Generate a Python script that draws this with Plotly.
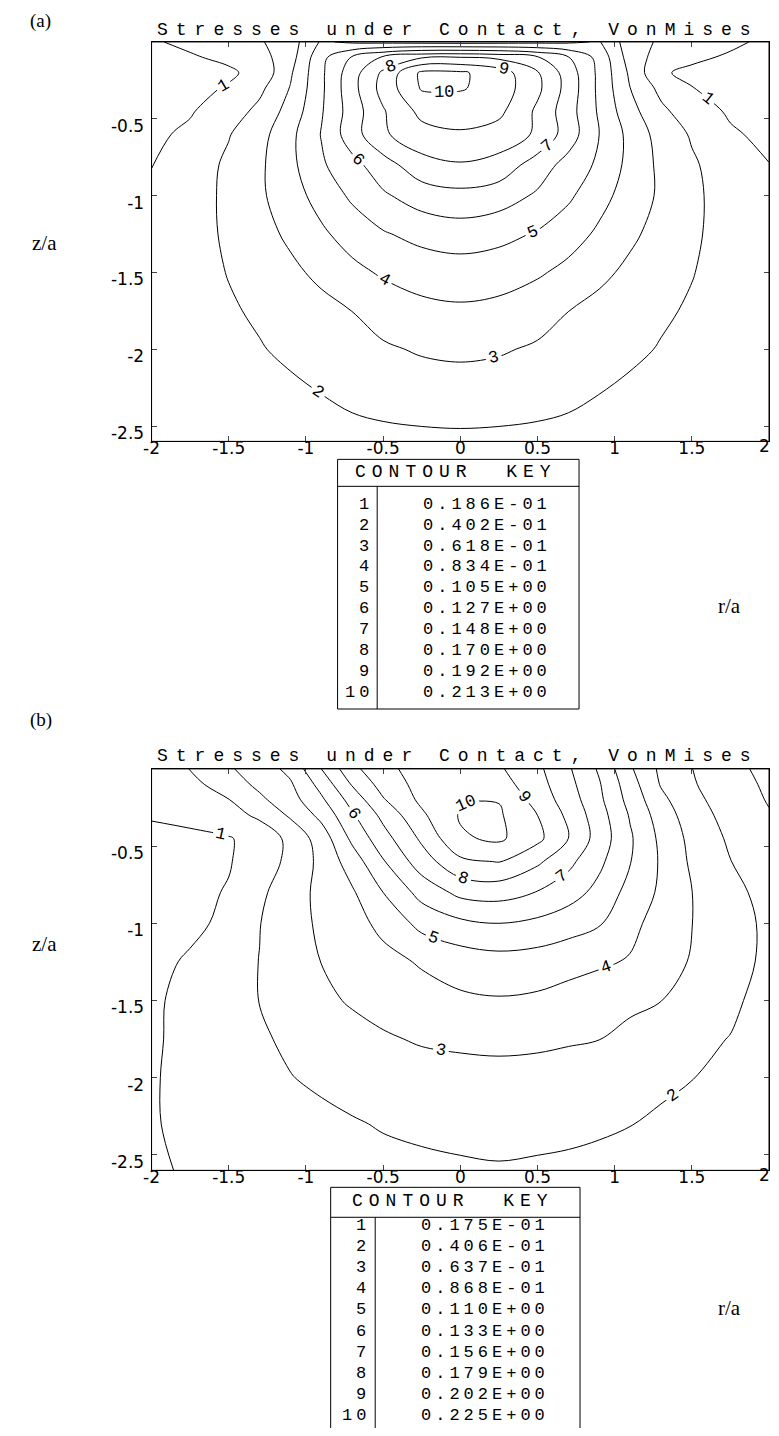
import numpy as np
import plotly.graph_objects as go

# ---------------- data ----------------
r_vals = [-2, -1.75, -1.5, -1.3, -1.1, -0.9, -0.7, -0.5, -0.25, 0, 0.25, 0.5, 0.7, 0.9, 1.1, 1.3, 1.5, 1.75, 2]
z_vals = [0, -0.1, -0.2, -0.3, -0.45, -0.6, -0.8, -1.0, -1.25, -1.5, -1.75, -2.0, -2.3, -2.6]

# panel (a): von Mises stress (rows follow z_vals, columns r_vals)
stress_a = [
    [0.017, 0.022, 0.030, 0.038, 0.052, 0.086, 0.080, 0.078, 0.076, 0.075, 0.076, 0.078, 0.080, 0.085, 0.050, 0.037, 0.029, 0.021, 0.016],
    [0.015, 0.017, 0.022, 0.032, 0.053, 0.099, 0.129, 0.151, 0.168, 0.170, 0.165, 0.150, 0.128, 0.098, 0.052, 0.031, 0.021, 0.017, 0.014],
    [0.012, 0.013, 0.016, 0.024, 0.059, 0.101, 0.139, 0.174, 0.217, 0.216, 0.203, 0.172, 0.138, 0.100, 0.058, 0.020, 0.016, 0.013, 0.011],
    [0.011, 0.014, 0.020, 0.035, 0.063, 0.101, 0.141, 0.178, 0.215, 0.215, 0.204, 0.175, 0.140, 0.100, 0.062, 0.034, 0.019, 0.013, 0.010],
    [0.012, 0.017, 0.029, 0.046, 0.070, 0.103, 0.137, 0.168, 0.198, 0.200, 0.197, 0.166, 0.136, 0.102, 0.069, 0.045, 0.028, 0.016, 0.012],
    [0.015, 0.022, 0.039, 0.054, 0.078, 0.106, 0.139, 0.167, 0.184, 0.190, 0.183, 0.167, 0.138, 0.105, 0.077, 0.053, 0.038, 0.021, 0.014],
    [0.018, 0.029, 0.044, 0.058, 0.078, 0.102, 0.120, 0.139, 0.162, 0.168, 0.162, 0.138, 0.119, 0.101, 0.077, 0.057, 0.043, 0.029, 0.019],
    [0.023, 0.032, 0.044, 0.058, 0.075, 0.091, 0.109, 0.124, 0.137, 0.142, 0.137, 0.124, 0.109, 0.090, 0.075, 0.058, 0.044, 0.032, 0.024],
    [0.025, 0.033, 0.043, 0.054, 0.066, 0.080, 0.092, 0.103, 0.112, 0.116, 0.112, 0.103, 0.092, 0.080, 0.066, 0.054, 0.043, 0.033, 0.025],
    [0.025, 0.032, 0.041, 0.048, 0.057, 0.067, 0.078, 0.086, 0.092, 0.095, 0.092, 0.086, 0.078, 0.067, 0.057, 0.048, 0.041, 0.032, 0.025],
    [0.025, 0.031, 0.038, 0.043, 0.049, 0.055, 0.062, 0.071, 0.078, 0.080, 0.078, 0.071, 0.062, 0.055, 0.049, 0.043, 0.038, 0.031, 0.025],
    [0.024, 0.029, 0.034, 0.039, 0.044, 0.049, 0.054, 0.059, 0.064, 0.066, 0.064, 0.059, 0.054, 0.049, 0.044, 0.039, 0.034, 0.029, 0.024],
    [0.022, 0.026, 0.030, 0.033, 0.036, 0.040, 0.044, 0.047, 0.050, 0.051, 0.050, 0.047, 0.044, 0.040, 0.036, 0.033, 0.030, 0.026, 0.022],
    [0.020, 0.023, 0.026, 0.028, 0.030, 0.032, 0.034, 0.035, 0.0355, 0.036, 0.0355, 0.035, 0.034, 0.032, 0.030, 0.028, 0.026, 0.023, 0.020],
]

# panel (b)
stress_b = [
    [0.030, 0.041, 0.061, 0.075, 0.093, 0.133, 0.172, 0.198, 0.208, 0.212, 0.205, 0.184, 0.159, 0.130, 0.090, 0.059, 0.041, 0.023, 0.012],
    [0.027, 0.034, 0.052, 0.069, 0.084, 0.118, 0.158, 0.188, 0.210, 0.220, 0.212, 0.188, 0.163, 0.135, 0.097, 0.062, 0.043, 0.026, 0.014],
    [0.021, 0.029, 0.040, 0.059, 0.0776, 0.106, 0.142, 0.177, 0.207, 0.224, 0.224, 0.193, 0.168, 0.138, 0.102, 0.0695, 0.047, 0.029, 0.016],
    [0.019, 0.022, 0.032, 0.045, 0.067, 0.093, 0.130, 0.162, 0.198, 0.227, 0.228, 0.202, 0.174, 0.143, 0.108, 0.076, 0.052, 0.032, 0.019],
    [0.013, 0.014, 0.016, 0.0255, 0.0467, 0.0744, 0.115, 0.147, 0.183, 0.222, 0.229, 0.208, 0.179, 0.146, 0.113, 0.0817, 0.0574, 0.037, 0.027],
    [0.012, 0.013, 0.016, 0.029, 0.046, 0.0698, 0.098, 0.131, 0.168, 0.197, 0.203, 0.183, 0.162, 0.138, 0.111, 0.084, 0.060, 0.041, 0.029],
    [0.011, 0.012, 0.019, 0.036, 0.0535, 0.0695, 0.084, 0.110, 0.141, 0.162, 0.165, 0.155, 0.143, 0.126, 0.102, 0.083, 0.064, 0.047, 0.033],
    [0.011, 0.013, 0.022, 0.040, 0.0546, 0.0675, 0.0786, 0.0926, 0.117, 0.128, 0.133, 0.128, 0.120, 0.112, 0.093, 0.0777, 0.064, 0.050, 0.036],
    [0.012, 0.020, 0.032, 0.041, 0.0527, 0.064, 0.072, 0.080, 0.089, 0.097, 0.101, 0.099, 0.095, 0.090, 0.085, 0.0728, 0.062, 0.047, 0.037],
    [0.014, 0.024, 0.031, 0.041, 0.0498, 0.059, 0.066, 0.072, 0.078, 0.083, 0.085, 0.083, 0.078, 0.074, 0.069, 0.064, 0.055, 0.0445, 0.033],
    [0.015, 0.023, 0.0314, 0.038, 0.044, 0.050, 0.056, 0.061, 0.066, 0.068, 0.069, 0.068, 0.066, 0.064, 0.057, 0.051, 0.045, 0.040, 0.031],
    [0.016, 0.0226, 0.030, 0.035, 0.040, 0.044, 0.048, 0.051, 0.054, 0.056, 0.057, 0.056, 0.054, 0.051, 0.048, 0.044, 0.041, 0.036, 0.029],
    [0.016, 0.022, 0.027, 0.030, 0.033, 0.036, 0.039, 0.042, 0.044, 0.046, 0.047, 0.046, 0.045, 0.043, 0.041, 0.038, 0.035, 0.031, 0.026],
    [0.0155, 0.019, 0.023, 0.026, 0.029, 0.031, 0.033, 0.035, 0.037, 0.038, 0.039, 0.038, 0.037, 0.036, 0.034, 0.032, 0.030, 0.027, 0.023],
]

key_a = ["0.186E-01", "0.402E-01", "0.618E-01", "0.834E-01", "0.105E+00",
         "0.127E+00", "0.148E+00", "0.170E+00", "0.192E+00", "0.213E+00"]
key_b = ["0.175E-01", "0.406E-01", "0.637E-01", "0.868E-01", "0.110E+00",
         "0.133E+00", "0.156E+00", "0.179E+00", "0.202E+00", "0.225E+00"]
key_ids = [1, 2, 3, 4, 5, 6, 7, 8, 9, 10]

x_ticks = [-2, -1.5, -1, -0.5, 0, 0.5, 1, 1.5, 2]
x_ticktext = ["-2", "-1.5", "-1", "-0.5", "0", "0.5", "1", "1.5", "2"]
y_ticks = [-0.5, -1, -1.5, -2, -2.5]
y_ticktext = ["-0.5", "-1", "-1.5", "-2", "-2.5"]

title_text = "Stresses under Contact, VonMises"


def to_key_index(vals, key):
    """map stress values onto the contour-key numbering (level i -> i)"""
    lev = np.array([float(s) for s in key])
    ids = np.array(key_ids, dtype=float)
    v = np.asarray(vals, dtype=float)
    out = np.interp(v, lev, ids)
    lo = v < lev[0]
    hi = v > lev[-1]
    out[lo] = 1 + (v[lo] - lev[0]) / (lev[1] - lev[0])
    out[hi] = 10 + (v[hi] - lev[-1]) / (lev[-1] - lev[-2])
    return out


# the page body has an 8px margin on every side; size the figure to fit inside the window
OFF = 8
W, H = 779 - 2 * OFF, 1436 - 2 * OFF


def px(x):
    return (x - OFF) / W


def py(y):
    return 1 - (y - OFF) / H


fig = go.Figure()

MONO = "Liberation Mono"
SERIF = "Liberation Serif"
SANS = "DejaVu Sans"
TICK_FONT = dict(family=SANS, size=17, color="black")

X_LEFT, X_RIGHT = 145, 769

panels = [
    dict(stress=stress_a, key=key_a, xa="x", ya="y", top=42, bot=442,
         label="(a)", label_y=21, title_y=30, za_y=243, ra_y=607,
         tab=dict(l=333, r=577, t=460, hdr=487, div=373, b=710, row0=505, dy=20.9, idx_r=371, val_l=417)),
    dict(stress=stress_b, key=key_b, xa="x2", ya="y2", top=770, bot=1172,
         label="(b)", label_y=721, title_y=757, za_y=945, ra_y=1310,
         tab=dict(l=326, r=578, t=1189, hdr=1219, div=371, b=1445, row0=1227, dy=21.2, idx_r=368, val_l=415)),
]

shapes = []
annotations = []


def spaced(s, sp):
    return f'<span style="letter-spacing:{sp}px">{s}</span>'


for i, p in enumerate(panels):
    idx = to_key_index(p["stress"], p["key"])
    fig.add_trace(go.Contour(
        x=r_vals, y=z_vals, z=idx,
        xaxis=p["xa"], yaxis=p["ya"],
        contours=dict(start=1, end=10, size=1, coloring="none", showlabels=True,
                      labelfont=dict(family=MONO, size=17, color="black")),
        line=dict(color="black", width=1, smoothing=1.0),
        showscale=False, hoverinfo="skip",
    ))
    sfx = "" if i == 0 else "2"
    fig.update_layout(**{
        "xaxis" + sfx: dict(domain=[px(X_LEFT), px(X_RIGHT)], range=[-2, 2], anchor="y" + sfx,
                            tickvals=x_ticks, ticktext=x_ticktext, ticks="inside", ticklen=5,
                            showline=True, linecolor="black", linewidth=1, mirror="ticks",
                            showgrid=False, zeroline=False, ticklabelstandoff=-9,
                            tickfont=TICK_FONT),
        "yaxis" + sfx: dict(domain=[py(p["bot"]), py(p["top"])], range=[-2.6, 0], anchor="x" + sfx,
                            tickvals=y_ticks, ticktext=y_ticktext, ticks="inside", ticklen=5,
                            showline=True, linecolor="black", linewidth=1, mirror="ticks",
                            showgrid=False, zeroline=False, ticklabelshift=7, ticklabelstandoff=3,
                            tickfont=TICK_FONT),
    })
    # plot frame
    shapes.append(dict(type="rect", xref=p["xa"] + " domain", yref=p["ya"] + " domain",
                       x0=0, x1=1, y0=0, y1=1, line=dict(color="black", width=1)))
    # last x tick label sits at the right edge of the frame; keep it inside the page
    annotations.append(dict(x=1, xref=p["xa"] + " domain", y=0, yref=p["ya"] + " domain",
                            text=x_ticktext[-1], showarrow=False, xanchor="center", yanchor="middle",
                            xshift=-5, yshift=-5, font=TICK_FONT))
    # title
    annotations.append(dict(x=px(455), y=py(p["title_y"]), xref="paper", yref="paper",
                            text=spaced(title_text, 8), showarrow=False, xanchor="center", yanchor="middle",
                            font=dict(family=MONO, size=18, color="black")))
    annotations.append(dict(x=px(20), y=py(p["label_y"]), xref="paper", yref="paper", text=p["label"],
                            showarrow=False, xanchor="left", yanchor="middle",
                            font=dict(family=SERIF, size=19, color="black")))
    annotations.append(dict(x=px(37), y=py(p["za_y"]), xref="paper", yref="paper", text="z/a",
                            showarrow=False, xanchor="center", yanchor="middle",
                            font=dict(family=SERIF, size=21, color="black")))
    annotations.append(dict(x=px(729), y=py(p["ra_y"]), xref="paper", yref="paper", text="r/a",
                            showarrow=False, xanchor="center", yanchor="middle",
                            font=dict(family=SERIF, size=21, color="black")))
    # contour key table
    t = p["tab"]
    shapes.append(dict(type="rect", xref="paper", yref="paper", x0=px(t["l"]), x1=px(t["r"]),
                       y0=py(t["b"]), y1=py(t["t"]), line=dict(color="black", width=1)))
    shapes.append(dict(type="line", xref="paper", yref="paper", x0=px(t["l"]), x1=px(t["r"]),
                       y0=py(t["hdr"]), y1=py(t["hdr"]), line=dict(color="black", width=1)))
    shapes.append(dict(type="line", xref="paper", yref="paper", x0=px(t["div"]), x1=px(t["div"]),
                       y0=py(t["b"]), y1=py(t["hdr"]), line=dict(color="black", width=1)))
    annotations.append(dict(x=px((t["l"] + t["r"]) / 2 - 2), y=py((t["t"] + t["hdr"]) / 2 - 1),
                            xref="paper", yref="paper", text=spaced("CONTOUR  KEY", 6), showarrow=False,
                            xanchor="center", yanchor="middle", font=dict(family=MONO, size=18, color="black")))
    for k, (kid, ktxt) in enumerate(zip(key_ids, p["key"])):
        yy = py(t["row0"] + k * t["dy"])
        annotations.append(dict(x=px(t["idx_r"]), y=yy, xref="paper", yref="paper",
                                text=spaced(str(kid), 4), showarrow=False, xanchor="right", yanchor="middle",
                                font=dict(family=MONO, size=17, color="black")))
        annotations.append(dict(x=px(t["val_l"]), y=yy, xref="paper", yref="paper",
                                text=spaced(ktxt, 4), showarrow=False, xanchor="left", yanchor="middle",
                                font=dict(family=MONO, size=17, color="black")))

fig.update_layout(
    width=W, height=H, autosize=False,
    margin=dict(l=0, r=0, t=0, b=0),
    paper_bgcolor="white", plot_bgcolor="white",
    showlegend=False, shapes=shapes, annotations=annotations,
)

fig.write_html("out.html")
